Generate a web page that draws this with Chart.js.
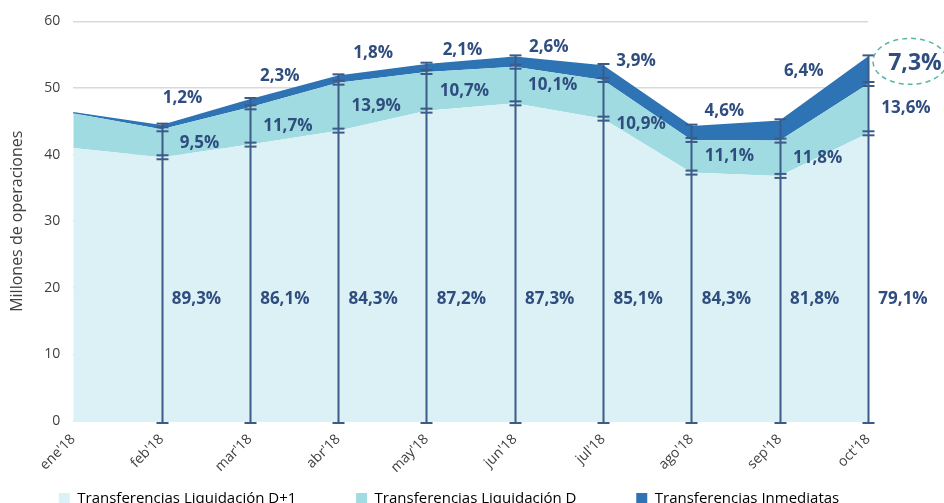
<!DOCTYPE html>
<html>
<head>
<meta charset="utf-8">
<script src="https://cdn.jsdelivr.net/npm/chart.js@4"></script>
<style>
  html, body { margin: 0; padding: 0; background: #fff; overflow: hidden; }
  #wrap { width: 944px; height: 516px; }
</style>
</head>
<body>
<div id="wrap"><canvas id="chart" width="944" height="516"></canvas></div>
<script>
// Datos (millones de operaciones)
const meses = ["ene'18", "feb'18", "mar'18", "abr'18", "may'18", "jun'18", "jul'18", "ago'18", "sep'18", "oct'18"];
const liqD1 = [41.0, 39.6, 41.5, 43.6, 46.6, 47.7, 45.4, 37.3, 36.8, 43.2];
const liqD = [5.2, 4.2, 5.6, 7.2, 5.8, 5.5, 5.8, 4.9, 5.3, 7.4];
const inmediatas = [0.1, 0.55, 1.1, 0.95, 1.1, 1.4, 2.1, 2.0, 2.9, 4.0];

// Etiquetas de porcentaje
const pctD1 = ['', '89,3%', '86,1%', '84,3%', '87,2%', '87,3%', '85,1%', '84,3%', '81,8%', '79,1%'];
const pctD = ['', '9,5%', '11,7%', '13,9%', '10,7%', '10,1%', '10,9%', '11,1%', '11,8%', '13,6%'];
const pctInm = ['', '1,2%', '2,3%', '1,8%', '2,1%', '2,6%', '3,9%', '4,6%', '6,4%', '7,3%'];

const FONT = "'Open Sans', 'Noto Sans', sans-serif";
const colLabel = '#2f4d7e';
const colBar = '#3d5b88';

// desplazamientos (px) de las etiquetas de Inmediatas respecto al tope de la pila
const offInm = [null, [21, -27], [30, -24], [35, -23], [36, -15], [34, -10], [33, -5], [33, -15], [24, -50], [47, 6]];

const barrasPlugin = {
  id: 'barras',
  afterDatasetsDraw(chart) {
    const { ctx, scales: { x, y } } = chart;
    ctx.save();
    ctx.strokeStyle = colBar;
    ctx.lineWidth = 2;
    const cap = 6;
    const hline = (px, py) => {
      ctx.beginPath();
      ctx.moveTo(px - cap, py);
      ctx.lineTo(px + cap, py);
      ctx.stroke();
    };
    for (let i = 1; i < meses.length; i++) {
      const px = Math.round(x.getPixelForValue(i)) + 0.5;
      const y0 = y.getPixelForValue(0) + 2;
      const yTot = y.getPixelForValue(liqD1[i] + liqD[i] + inmediatas[i]) - 2;
      const yA = y.getPixelForValue(liqD1[i]);
      const yB = y.getPixelForValue(liqD1[i] + liqD[i]);
      ctx.beginPath();
      ctx.moveTo(px, y0);
      ctx.lineTo(px, yTot);
      ctx.stroke();
      hline(px, y0);
      hline(px, yTot);
      hline(px, yA - 2);
      hline(px, yA + 2);
      hline(px, yB - 2);
      hline(px, yB + 2);
    }
    ctx.restore();
  }
};

const etiquetasPlugin = {
  id: 'etiquetas',
  afterDraw(chart) {
    const { ctx, scales: { x, y } } = chart;
    ctx.save();
    ctx.fillStyle = colLabel;
    ctx.textAlign = 'center';
    ctx.textBaseline = 'middle';
    ctx.font = 'bold 17px ' + FONT;
    for (let i = 1; i < meses.length; i++) {
      const px = x.getPixelForValue(i);
      // Liquidación D+1
      ctx.fillText(pctD1[i], px + 35, y.getPixelForValue(18.3));
      // Liquidación D
      let yD = y.getPixelForValue(liqD1[i] + liqD[i] / 2);
      if (i === 6) yD += 25;
      ctx.fillText(pctD[i], px + 38, yD);
      // Inmediatas
      const yTot = y.getPixelForValue(liqD1[i] + liqD[i] + inmediatas[i]);
      const [dx, dy] = offInm[i];
      if (i === meses.length - 1) {
        ctx.font = 'bold 23px ' + FONT;
        ctx.fillText(pctInm[i], px + dx, yTot + dy);
        ctx.strokeStyle = '#5bb5a7';
        ctx.lineWidth = 1.5;
        ctx.setLineDash([5, 4]);
        ctx.beginPath();
        ctx.ellipse(px + dx - 5, yTot + dy - 2, 37, 23, 0, 0, Math.PI * 2);
        ctx.stroke();
        ctx.setLineDash([]);
        ctx.font = 'bold 17px ' + FONT;
      } else {
        ctx.fillText(pctInm[i], px + dx, yTot + dy);
      }
    }
    ctx.restore();
  }
};

// corre la leyenda un poco a la derecha
const leyendaPlugin = {
  id: 'leyendaShift',
  afterLayout(chart) {
    if (chart.legend) {
      chart.legend.left += 11;
      chart.legend.right += 11;
    }
  }
};

new Chart(document.getElementById('chart').getContext('2d'), {
  type: 'line',
  data: {
    labels: meses,
    datasets: [
      {
        label: 'Transferencias Liquidación D+1',
        data: liqD1,
        backgroundColor: '#dcf1f5',
        borderColor: '#dcf1f5',
        borderWidth: 0,
        fill: 'origin',
        pointRadius: 0,
        tension: 0
      },
      {
        label: 'Transferencias Liquidación D',
        data: liqD,
        backgroundColor: '#9fdbe0',
        borderColor: '#9fdbe0',
        borderWidth: 0,
        fill: '-1',
        pointRadius: 0,
        tension: 0
      },
      {
        label: 'Transferencias Inmediatas',
        data: inmediatas,
        backgroundColor: '#2e74b5',
        borderColor: '#2e74b5',
        borderWidth: 1.5,
        fill: '-1',
        pointRadius: 0,
        tension: 0
      }
    ]
  },
  options: {
    responsive: false,
    animation: false,
    devicePixelRatio: 1,
    layout: { padding: { top: 14, left: 8, right: 76, bottom: 0 } },
    scales: {
      x: {
        offset: false,
        grid: { display: false },
        border: { display: false },
        ticks: {
          minRotation: 45,
          maxRotation: 45,
          color: '#404040',
          padding: 2,
          font: { family: FONT, size: 14 }
        }
      },
      y: {
        stacked: true,
        min: 0,
        max: 60,
        border: { display: false },
        grid: { color: '#d9d9d9', lineWidth: 1.5, drawTicks: false },
        ticks: {
          stepSize: 10,
          color: '#404040',
          padding: 13,
          font: { family: FONT, size: 14 }
        },
        title: {
          display: true,
          text: 'Millones de operaciones',
          color: '#404040',
          padding: { top: 0, bottom: 4 },
          font: { family: FONT, size: 16 }
        }
      }
    },
    plugins: {
      legend: {
        position: 'bottom',
        labels: {
          boxWidth: 11,
          boxHeight: 11,
          padding: 13,
          color: '#404040',
          font: { family: FONT, size: 15 },
          generateLabels(chart) {
            const n = chart.data.datasets.length;
            return chart.data.datasets.map((ds, i) => ({
              text: ds.label + (i < n - 1 ? '            ' : ''),
              fillStyle: ds.backgroundColor,
              strokeStyle: ds.backgroundColor,
              lineWidth: 0,
              datasetIndex: i
            }));
          }
        }
      },
      tooltip: { enabled: false }
    }
  },
  plugins: [barrasPlugin, etiquetasPlugin, leyendaPlugin]
});
</script>
</body>
</html>
